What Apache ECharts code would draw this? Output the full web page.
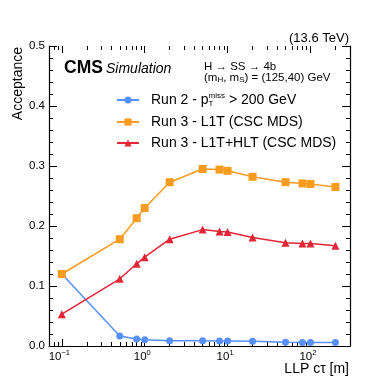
<!DOCTYPE html>
<html>
<head>
<meta charset="utf-8">
<script src="https://cdn.jsdelivr.net/npm/echarts@6.0.0/dist/echarts.min.js"></script>
<style>
html,body{margin:0;padding:0;background:#fff;}
#mychart{width:389px;height:389px;}
</style>
</head>
<body>
<div id="mychart"></div>
<script>
// LLP c*tau points [m]
var ctValues = [0.1, 0.5, 0.8, 1, 2, 5, 8, 10, 20, 50, 80, 100, 200];
var run2Met = [0.12, 0.0167, 0.0117, 0.0106, 0.0089, 0.0088, 0.0083, 0.0083, 0.0078, 0.0061, 0.006, 0.006, 0.006];
var run3L1T = [0.12, 0.178, 0.213, 0.23, 0.273, 0.295, 0.294, 0.292, 0.282, 0.273, 0.271, 0.27, 0.265];
var run3L1THLT = [0.053, 0.112, 0.137, 0.148, 0.178, 0.194, 0.191, 0.19, 0.181, 0.172, 0.171, 0.171, 0.167];
var seriesNames = ['Run 2 - pTmiss > 200 GeV', 'Run 3 - L1T (CSC MDS)', 'Run 3 - L1T+HLT (CSC MDS)'];
var xMajorTicks = [0.1, 1, 10, 100];
var xMinorTicks = [0.07, 0.08, 0.09, 0.2, 0.3, 0.4, 0.5, 0.6, 0.7, 0.8, 0.9,
                   2, 3, 4, 5, 6, 7, 8, 9, 20, 30, 40, 50, 60, 70, 80, 90, 200, 300];
var xMin = 0.07, xMax = 300;

var FONT = '"Liberation Sans", Arial, Helvetica, sans-serif';
var colors = ['#5790fc', '#f89c20', '#e42536'];

function pairs(ys){
	return ctValues.map(function(x, i){ return [x, ys[i]]; });
}
function lg(v){ return Math.log10(v); }

var myChart = echarts.init(document.getElementById('mychart'));

// tick-only axes placed at log10 positions (log minor ticks 2..9)
function tickAxis(pos, vals, len, labels){
	return {
		type: 'value',
		position: pos,
		min: lg(xMin), max: lg(xMax),
		axisLine: {show: labels, onZero: false, lineStyle: {color: '#000', width: 1.2}},
		splitLine: {show: false},
		axisTick: {
			show: true, inside: true, length: len,
			customValues: vals.map(lg),
			lineStyle: {color: '#000', width: 1}
		},
		axisLabel: labels ? {
			show: true,
			customValues: vals.map(lg),
			margin: 3,
			padding: [0, 5, 0, 0],
			formatter: function(v){
				var e = Math.round(v);
				return '{b|10}{sup|' + (e < 0 ? '\u2212' + (-e) : e) + '}';
			},
			rich: {
				b: {fontSize: 11.5, fontFamily: FONT, color: '#000', lineHeight: 15},
				sup: {fontSize: 7.5, fontFamily: FONT, color: '#000', lineHeight: 8, verticalAlign: 'top'}
			}
		} : {show: false}
	};
}

function yAx(pos, labels){
	return {
		type: 'value',
		position: pos,
		min: 0, max: 0.5, interval: 0.1,
		axisLine: {show: true, onZero: false, lineStyle: {color: '#000', width: 1.2}},
		splitLine: {show: false},
		axisTick: {show: true, inside: true, length: 8, lineStyle: {color: '#000', width: 1}},
		minorTick: {show: true, splitNumber: 5, length: 4, lineStyle: {color: '#000', width: 1}},
		axisLabel: {
			show: labels, margin: 4, color: '#000', fontSize: 11.5, fontFamily: FONT,
			formatter: function(v){ return v.toFixed(1); }
		}
	};
}

function legendFor(i, top){
	return {
		show: true,
		data: [seriesNames[i]],
		left: 116, top: top,
		padding: 0,
		itemWidth: 22, itemHeight: 9,
		selectedMode: false,
		formatter: function(name){
			if (i === 0) return 'Run 2 - p{sub|T}{sup|miss} > 200 GeV';
			return name;
		},
		textStyle: {
			color: '#000', fontSize: 14, fontFamily: FONT, lineHeight: 16,
			padding: [0, 0, 0, 7],
			rich: {
				sub: {fontSize: 8, fontFamily: FONT, color: '#000', lineHeight: 10, verticalAlign: 'bottom', width: 0},
				sup: {fontSize: 8, fontFamily: FONT, color: '#000', lineHeight: 8, verticalAlign: 'top'}
			}
		}
	};
}

var option = {
	animation: false,
	backgroundColor: '#fff',
	grid: {left: 49, top: 46, width: 301, height: 300, containLabel: false},
	legend: [legendFor(0, 92), legendFor(1, 114), legendFor(2, 135)],
	xAxis: [
		{
			type: 'log', logBase: 10, min: xMin, max: xMax,
			position: 'bottom',
			axisLine: {show: false, onZero: false}, axisTick: {show: false},
			axisLabel: {show: false}, splitLine: {show: false}, minorSplitLine: {show: false}
		},
		tickAxis('bottom', xMajorTicks, 7, true),
		tickAxis('bottom', xMinorTicks, 4, false),
		tickAxis('top', xMajorTicks, 7, false),
		tickAxis('top', xMinorTicks, 4, false)
	],
	yAxis: [yAx('left', true), yAx('right', false)],
	series: [
		{
			name: seriesNames[0], type: 'line',
			data: pairs(run2Met),
			symbol: 'circle', symbolSize: 7,
			itemStyle: {color: colors[0]},
			lineStyle: {color: colors[0], width: 1.5},
			z: 2
		},
		{
			name: seriesNames[1], type: 'line',
			data: pairs(run3L1T),
			symbol: 'rect', symbolSize: 8,
			itemStyle: {color: colors[1]},
			lineStyle: {color: colors[1], width: 1.5},
			z: 3
		},
		{
			name: seriesNames[2], type: 'line',
			data: pairs(run3L1THLT),
			symbol: 'triangle', symbolSize: 8,
			itemStyle: {color: colors[2]},
			lineStyle: {color: colors[2], width: 1.5},
			z: 4
		}
	],
	graphic: [
		{type: 'text', x: 349, y: 38.2, style: {text: '(13.6 TeV)', font: '13px ' + FONT, fill: '#000', textAlign: 'right', textVerticalAlign: 'middle'}},
		{type: 'text', x: 64, y: 68, style: {text: 'CMS', font: 'bold 17.5px ' + FONT, fill: '#000', textAlign: 'left', textVerticalAlign: 'middle'}},
		{type: 'text', x: 106, y: 69.1, style: {text: 'Simulation', font: 'italic 14px ' + FONT, fill: '#000', textAlign: 'left', textVerticalAlign: 'middle'}},
		{type: 'text', x: 204, y: 66.7, style: {text: 'H \u2192 SS \u2192 4b', font: '11.5px ' + FONT, fill: '#000', textAlign: 'left', textVerticalAlign: 'middle'}},
		{type: 'text', x: 204, y: 77.5, style: {
			text: '(m{s|H}, m{s|S}) = (125,40) GeV', font: '11.5px ' + FONT, fill: '#000',
			lineHeight: 13, textAlign: 'left', textVerticalAlign: 'middle',
			rich: {s: {fontSize: 8, fontFamily: FONT, fill: '#000', lineHeight: 8, verticalAlign: 'bottom'}}
		}},
		{type: 'text', x: 18, y: 47, rotation: Math.PI / 2, style: {text: 'Acceptance', font: '14px ' + FONT, fill: '#000', textAlign: 'right', textVerticalAlign: 'middle'}},
		{type: 'text', x: 349, y: 369, style: {text: 'LLP c\u03c4 [m]', font: '14px ' + FONT, fill: '#000', textAlign: 'right', textVerticalAlign: 'middle'}}
	]
};

if (option && typeof option === "object") {
	myChart.setOption(option, true);
}
</script>
</body>
</html>
